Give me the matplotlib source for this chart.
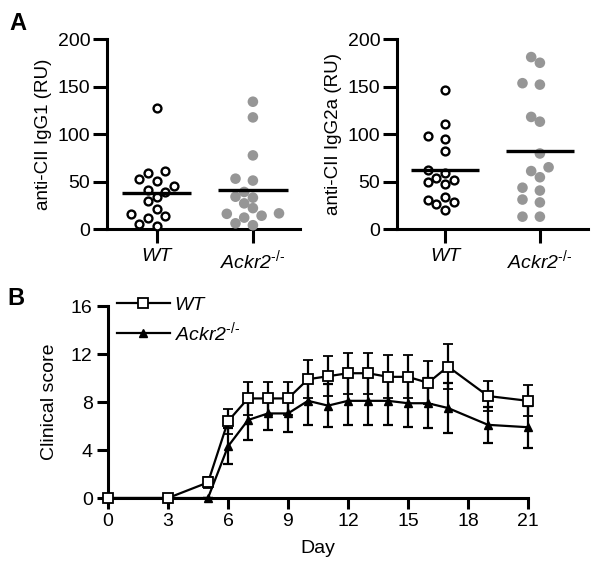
import numpy as np
import matplotlib
matplotlib.use('Agg')
import matplotlib.pyplot as plt
from matplotlib.lines import Line2D

plt.rcParams['font.family'] = 'Liberation Sans'
plt.rcParams['mathtext.fontset'] = 'custom'
plt.rcParams['mathtext.rm'] = 'Liberation Sans'
plt.rcParams['mathtext.it'] = 'Liberation Sans:italic'

# ---- panel A data (RU) ----
group_labels = ['WT', 'Ackr2$^{\u2010/\u2010}$']
igg1_wt = [127, 61, 59, 53, 51, 45, 41, 39, 34, 29, 21, 16, 14, 12, 5, 3.5]
igg1_ko = [134, 117.5, 77.5, 53, 51, 39, 34, 33, 27, 22, 16.5, 16, 14, 12, 6, 4]
igg2a_wt = [146, 111, 98, 95, 82, 62, 59, 54, 52, 49, 47, 34, 31, 28, 26.5, 20]
igg2a_ko = [181, 175, 153.5, 152, 118, 113, 79.5, 65, 61, 54.5, 43.5, 40.5, 31, 28, 13, 13]

# ---- panel B data (clinical score, mean +/- sem) ----
days = [0, 3, 5, 6, 7, 8, 9, 10, 11, 12, 13, 14, 15, 16, 17, 19, 21]
wt_score = [0, 0, 1.3, 6.4, 8.3, 8.3, 8.3, 9.9, 10.15, 10.4, 10.4, 10.1, 10.1, 9.6, 10.95, 8.5, 8.1]
wt_sem = [0, 0, 0.45, 1.05, 1.4, 1.4, 1.4, 1.6, 1.65, 1.7, 1.7, 1.8, 1.8, 1.8, 1.85, 1.22, 1.3]
ko_score = [0, 0, 0, 4.3, 6.5, 7.05, 7.05, 8.1, 7.7, 8.1, 8.1, 8.1, 7.9, 7.9, 7.5, 6.1, 5.9]
ko_sem = [0, 0, 0, 1.5, 1.7, 1.4, 1.55, 2.0, 1.8, 2.0, 2.0, 2.0, 2.0, 2.1, 2.1, 1.5, 1.75]

GRAY = '#969696'
FS = 14


def style_axes(ax, ticklen):
    for s in ['top', 'right']:
        ax.spines[s].set_visible(False)
    for s in ['left', 'bottom']:
        ax.spines[s].set_linewidth(2.2)
    ax.tick_params(width=2.2, length=ticklen, labelsize=FS, pad=3)


def swarm_x(ax, center, values, step_px=8.7, diam_px=9.5):
    # simple beeswarm done in pixel space
    vals = np.asarray(values, dtype=float)
    pts = ax.transData.transform(np.column_stack([np.full(len(vals), center), vals]))
    placed = []
    xs = np.zeros(len(vals))
    for i in np.argsort(vals):
        x0, y0 = pts[i]
        x = x0
        for k in [0, -1, 1, -2, 2, -3, 3, -4, 4, -5, 5]:
            x = x0 + k * step_px
            if all((x - px) ** 2 + (y0 - py) ** 2 >= diam_px ** 2 for px, py in placed):
                break
        placed.append((x, y0))
        xs[i] = x
    return ax.transData.inverted().transform(np.column_stack([xs, pts[:, 1]]))[:, 0]


def dot_panel(ax, wt, ko, ylabel, xlim):
    style_axes(ax, 10)
    ax.set_xlim(*xlim)
    ax.set_ylim(0, 200)
    ax.set_yticks([0, 50, 100, 150, 200])
    ax.set_xticks([0, 1])
    ax.set_xticklabels(group_labels, fontstyle='italic')
    ax.tick_params(axis='x', pad=4)
    ax.tick_params(axis='y', pad=2)
    ax.set_ylabel(ylabel, fontsize=FS - 0.5, labelpad=4)
    ax.scatter(swarm_x(ax, 0, wt), wt, s=32, facecolor='white', edgecolor='black',
               linewidth=1.7, zorder=3, clip_on=False)
    ax.scatter(swarm_x(ax, 1, ko), ko, s=58, facecolor=GRAY, edgecolor='none',
               zorder=3, clip_on=False)
    for c, v in [(0, wt), (1, ko)]:
        m = np.mean(v)
        ax.plot([c - 0.36, c + 0.36], [m, m], color='black', lw=2.4, zorder=4,
                solid_capstyle='butt')


fig = plt.figure(figsize=(6, 5.68), dpi=100)

ax1 = fig.add_axes([0.178, 0.5968, 0.322, 0.3345])
dot_panel(ax1, igg1_wt, igg1_ko, 'anti-CII IgG1 (RU)', (-0.52, 1.49))

ax2 = fig.add_axes([0.6617, 0.5968, 0.318, 0.3345])
dot_panel(ax2, igg2a_wt, igg2a_ko, 'anti-CII IgG2a (RU)', (-0.505, 1.505))

# ---- panel B ----
axb = fig.add_axes([0.18, 0.1232, 0.70, 0.338])
style_axes(axb, 8)
axb.set_xlim(0, 21)
axb.set_ylim(0, 16)
axb.set_xticks(range(0, 22, 3))
axb.set_yticks([0, 4, 8, 12, 16])
axb.set_xlabel('Day', fontsize=FS, labelpad=7)
axb.set_ylabel('Clinical score', fontsize=FS, labelpad=9)

ko_style = dict(color='black', lw=1.6, marker='^', markersize=5.5, mfc='black', mec='black')
wt_style = dict(color='black', lw=1.6, marker='s', markersize=7, mfc='white', mec='black', mew=1.3)

axb.errorbar(days, ko_score, yerr=ko_sem, capsize=3.6, capthick=1.6,
             elinewidth=1.6, clip_on=False, zorder=3, **ko_style)
axb.errorbar(days, wt_score, yerr=wt_sem, capsize=3.6, capthick=1.6,
             elinewidth=1.6, clip_on=False, zorder=4, **wt_style)

handles = [Line2D([], [], **wt_style), Line2D([], [], **ko_style)]
leg = axb.legend(handles, ['WT', 'Ackr2$^{\u2010/\u2010}$'], loc='upper left',
                 bbox_to_anchor=(0.022, 1.05), frameon=False, fontsize=FS,
                 handlelength=2.7, handletextpad=0.25, labelspacing=0.3,
                 borderpad=0, borderaxespad=0)
for t in leg.get_texts():
    t.set_fontstyle('italic')

fig.text(0.015, 0.958, 'A', fontsize=17, fontweight='bold', va='center')
fig.text(0.013, 0.475, 'B', fontsize=17, fontweight='bold', va='center')

fig.savefig('out.png', dpi=100)
